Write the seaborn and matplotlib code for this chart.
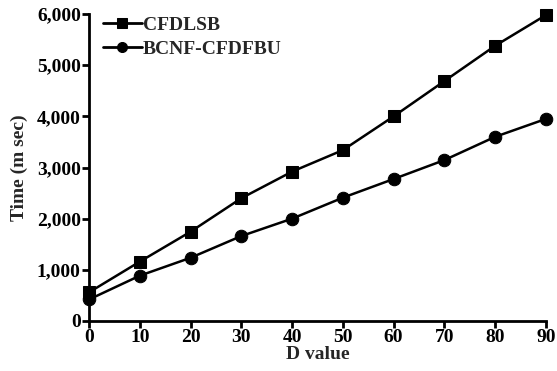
import pandas as pd
import matplotlib
matplotlib.use("Agg")
import matplotlib.pyplot as plt
import matplotlib.ticker as mticker
import seaborn as sns

# ============================================================
# DATA
# ============================================================
d_values = [0, 10, 20, 30, 40, 50, 60, 70, 80, 90]
cfdlsb = [560, 1160, 1745, 2400, 2920, 3340, 4000, 4690, 5380, 5980]
bcnf_cfdfbu = [420, 885, 1235, 1660, 2000, 2410, 2775, 3145, 3600, 3950]
series_names = ["CFDLSB", "BCNF-CFDFBU"]

df = pd.DataFrame({
    "d": d_values * 2,
    "time": cfdlsb + bcnf_cfdfbu,
    "method": [series_names[0]] * len(d_values) + [series_names[1]] * len(d_values),
})

# ============================================================
# STYLE
# ============================================================
sns.set_style("ticks")
plt.rcParams["font.family"] = ["Liberation Serif", "DejaVu Serif"]

fig, ax = plt.subplots(figsize=(5.57, 3.71), dpi=100)
fig.subplots_adjust(left=0.16, right=0.98, bottom=0.135, top=0.962)

sns.lineplot(data=df, x="d", y="time", hue="method", style="method",
             palette=["black", "black"], markers={"CFDLSB": "s", "BCNF-CFDFBU": "o"},
             dashes=False, markersize=9, linewidth=1.8, markeredgecolor="black",
             ax=ax, clip_on=False)

ax.set_xlim(0, 90)
ax.set_ylim(0, 6000)
ax.set_xticks(range(0, 91, 10))
ax.set_yticks(range(0, 6001, 1000))
ax.yaxis.set_major_formatter(mticker.FuncFormatter(lambda v, _: f"{v:,.0f}"))

for side in ["top", "right"]:
    ax.spines[side].set_visible(False)
for side in ["left", "bottom"]:
    ax.spines[side].set_linewidth(2)
    ax.spines[side].set_color("black")
ax.tick_params(axis="both", width=2, length=5, color="black", labelsize=14,
               labelcolor="black", direction="out", pad=1)
for lbl in ax.get_xticklabels() + ax.get_yticklabels():
    lbl.set_fontweight("bold")

ax.set_xlabel("D value", fontsize=14, fontweight="bold", labelpad=0)
ax.set_ylabel("Time (m sec)", fontsize=14, fontweight="bold", labelpad=6)

leg = ax.legend(loc="upper left", bbox_to_anchor=(0.013, 1.017), frameon=False,
                prop={"size": 14, "weight": "bold"}, handlelength=2.0,
                handletextpad=0.05, labelspacing=0.3, borderaxespad=0,
                markerscale=0.8)
for line in leg.get_lines():
    line.set_linewidth(2)

plt.savefig("out.png", dpi=100)
plt.close()
